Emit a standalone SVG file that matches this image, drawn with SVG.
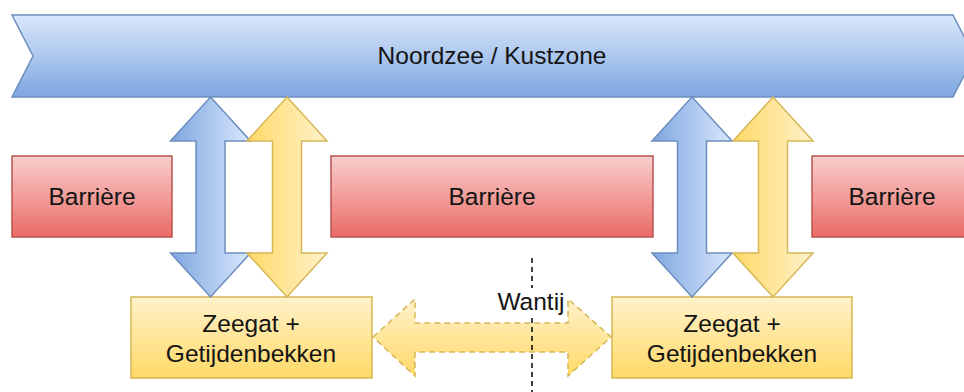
<svg xmlns="http://www.w3.org/2000/svg" width="964" height="392" viewBox="0 0 964 392">
  <defs>
    <linearGradient id="gBlueV" x1="0" y1="0" x2="0" y2="1">
      <stop offset="0" stop-color="#dae8fc"/>
      <stop offset="1" stop-color="#7ea6e0"/>
    </linearGradient>
    <linearGradient id="gRedV" x1="0" y1="0" x2="0" y2="1">
      <stop offset="0" stop-color="#f8cecc"/>
      <stop offset="1" stop-color="#ea6b66"/>
    </linearGradient>
    <linearGradient id="gYellowV" x1="0" y1="0" x2="0" y2="1">
      <stop offset="0" stop-color="#fff2cc"/>
      <stop offset="1" stop-color="#ffd966"/>
    </linearGradient>
    <linearGradient id="gBlueH" x1="0" y1="0" x2="1" y2="0">
      <stop offset="0" stop-color="#7ea6e0"/>
      <stop offset="1" stop-color="#dae8fc"/>
    </linearGradient>
    <linearGradient id="gYellowH" x1="0" y1="0" x2="1" y2="0">
      <stop offset="0" stop-color="#ffd966"/>
      <stop offset="1" stop-color="#fff2cc"/>
    </linearGradient>
  </defs>
  <style>
    text { font-family: "Liberation Sans", Arial, Helvetica, sans-serif; font-size: 24.5px; fill: #141414; text-anchor: middle; }
    .sea { fill: url(#gBlueV); stroke: #6c8ebf; stroke-width: 1.5; }
    .barrier { fill: url(#gRedV); stroke: #b85450; stroke-width: 1.5; }
    .basin { fill: url(#gYellowV); stroke: #d6b656; stroke-width: 1.5; }
    .flowBlue { fill: url(#gBlueH); stroke: #6c8ebf; stroke-width: 1.5; }
    .flowYellow { fill: url(#gYellowH); stroke: #d6b656; stroke-width: 1.5; }
    .tide { fill: url(#gYellowV); stroke: #d6b656; stroke-width: 1.5; stroke-dasharray: 6 4; }
    .divide { stroke: #000; stroke-width: 1.5; stroke-dasharray: 5 4; fill: none; }
  </style>

  <!-- North Sea / coastal zone band -->
  <g id="noordzee">
    <polygon class="sea" points="12,15 953,15 974,56 953,97 12,97 33,56"/>
    <text x="492" y="64">Noordzee / Kustzone</text>
  </g>

  <!-- Barrier islands -->
  <g id="barriere-links">
    <rect class="barrier" x="12" y="156" width="160" height="81"/>
    <text x="92" y="205">Barrière</text>
  </g>
  <g id="barriere-midden">
    <rect class="barrier" x="331" y="156" width="322" height="81"/>
    <text x="492" y="205">Barrière</text>
  </g>
  <g id="barriere-rechts">
    <rect class="barrier" x="812" y="156" width="160" height="81"/>
    <text x="892" y="205">Barrière</text>
  </g>

  <!-- Tidal inlet + basin -->
  <g id="zeegat-links">
    <rect class="basin" x="131" y="297" width="241" height="81"/>
    <text x="251" y="332">Zeegat +</text>
    <text x="251" y="362">Getijdenbekken</text>
  </g>
  <g id="zeegat-rechts">
    <rect class="basin" x="612" y="297" width="240" height="81"/>
    <text x="732" y="332">Zeegat +</text>
    <text x="732" y="362">Getijdenbekken</text>
  </g>

  <!-- Exchange arrows -->
  <g id="connectors">
    <polygon class="flowBlue" points="210.5,97 250.5,141 225,141 225,253 250.5,253 210.5,297 170.5,253 196,253 196,141 170.5,141"/>
    <polygon class="flowYellow" points="287,97 327,141 301.5,141 301.5,253 327,253 287,297 247,253 272.5,253 272.5,141 247,141"/>
    <polygon class="flowBlue" points="692,97 732,141 706.5,141 706.5,253 732,253 692,297 652,253 677.5,253 677.5,141 652,141"/>
    <polygon class="flowYellow" points="773,97 813,141 787.5,141 787.5,253 813,253 773,297 733,253 758.5,253 758.5,141 733,141"/>
    <polygon class="tide" points="373,337 415,299 415,323 568,323 568,299 611,337 568,376 568,352 415,352 415,376"/>
    <line class="divide" x1="532" y1="258" x2="532" y2="288"/>
    <line class="divide" x1="532" y1="318" x2="532" y2="392"/>
  </g>

  <g id="wantij">
    <text x="531" y="310">Wantij</text>
  </g>
</svg>
